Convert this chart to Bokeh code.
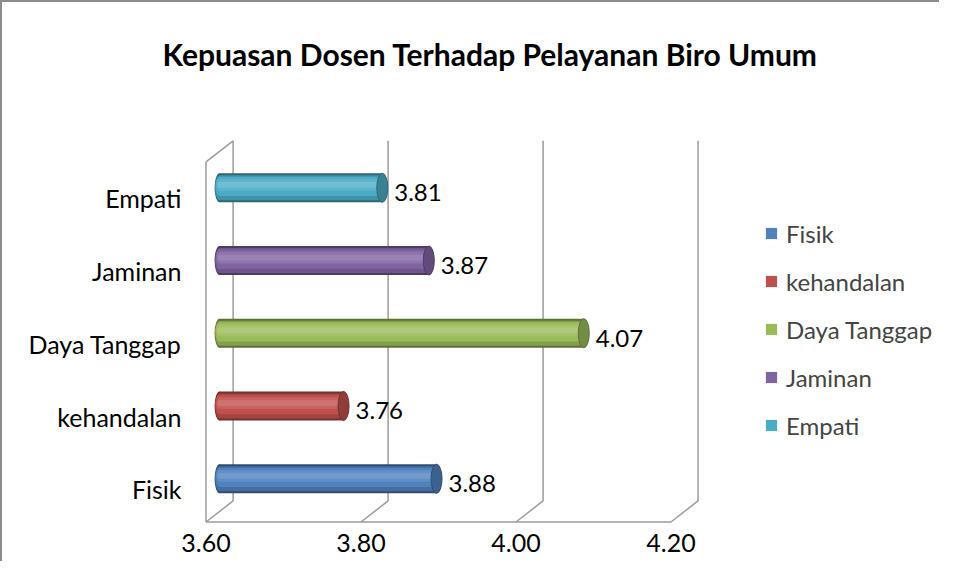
from bokeh.plotting import figure
from bokeh.models import (FixedTicker, PrintfTickFormatter, Legend, LegendItem,
                          ColumnDataSource)
from bokeh.embed import file_html
from bokeh.resources import INLINE
from bokeh.core.properties import value

# ---------------- data ----------------
categories = ["Fisik", "kehandalan", "Daya Tanggap", "Jaminan", "Empati"]
scores = [3.88, 3.76, 4.07, 3.87, 3.81]
x_ticks = [3.60, 3.80, 4.00, 4.20]
title_text = "Kepuasan Dosen Terhadap Pelayanan Biro Umum"

# ---------------- style ----------------
palette = ["#4F81BD", "#C0504D", "#9BBB59", "#8064A2", "#4BACC6"]
FONT = "Lato"
GRID = "#9c9c9c"
DX, DY = 0.035, 0.29          # 3-D depth offset (data units)
FLOOR, TOP = -0.45, 4.50      # floor / wall top (front plane)
BAR_H = 0.40


def mix(hexc, other, f):
    h = hexc.lstrip("#")
    r, g, b = (int(h[i:i + 2], 16) for i in (0, 2, 4))
    r = round(r + (other[0] - r) * f)
    g = round(g + (other[1] - g) * f)
    b = round(b + (other[2] - b) * f)
    return "#%02x%02x%02x" % (r, g, b)


def shade(c, f):
    return mix(c, (0, 0, 0), f)


def tint(c, f):
    return mix(c, (255, 255, 255), f)


n = len(categories)
ypos = list(range(n))
src = ColumnDataSource(dict(
    cat=categories,
    y=[i + DY / 2 for i in ypos],
    y1=[i + DY / 2 + BAR_H * 0.05 for i in ypos],
    y2=[i + DY / 2 + BAR_H * 0.10 for i in ypos],
    left=[x_ticks[0] + DX / 2] * n,
    right=[s + DX / 2 for s in scores],
    label=["%.2f" % s for s in scores],
    c_main=palette,
    c_dark=[shade(c, 0.40) for c in palette],
    c_mid=[shade(c, 0.15) for c in palette],
    c_l1=[tint(c, 0.10) for c in palette],
    c_l2=[tint(c, 0.20) for c in palette],
    c_cap=[shade(c, 0.25) for c in palette],
))

p = figure(width=939, height=561,
           x_range=(3.58, 4.544), y_range=(-0.484, 5.427),
           output_backend="svg", toolbar_location=None,
           min_border_left=188, min_border_right=4,
           min_border_top=92, min_border_bottom=39)
p.background_fill_color = "white"
p.border_fill_color = "white"
p.outline_line_color = None
p.grid.visible = False
p.styles = {"border-left": "2px solid #8c8c8c", "border-top": "2px solid #8c8c8c"}

# ---------------- 3-D walls ----------------
back_x = [t + DX for t in x_ticks]
p.segment(x0=back_x, y0=[FLOOR + DY] * len(x_ticks), x1=back_x, y1=[TOP + DY] * len(x_ticks),
          line_color=GRID, line_width=1.5)
p.segment(x0=x_ticks, y0=[FLOOR] * len(x_ticks), x1=back_x, y1=[FLOOR + DY] * len(x_ticks),
          line_color=GRID, line_width=1.5)
p.segment(x0=[x_ticks[0], x_ticks[0], x_ticks[0]],
          y0=[FLOOR, FLOOR, TOP],
          x1=[x_ticks[-1], x_ticks[0], x_ticks[0] + DX],
          y1=[FLOOR, TOP, TOP + DY],
          line_color=GRID, line_width=1.5)

# ---------------- cylinders ----------------
layers = [("y", 1.00, "c_dark", 10), ("y", 0.86, "c_mid", 9), ("y1", 0.66, "c_main", 8),
          ("y2", 0.40, "c_l1", 6), ("y2", 0.20, "c_l2", 4)]
for ycol, frac, col, w in layers:
    p.ellipse(x="left", y=ycol, width=w, height=BAR_H * frac, width_units="screen",
              fill_color=col, line_color=None, source=src)
    p.hbar(y=ycol, left="left", right="right", height=BAR_H * frac,
           fill_color=col, line_color=None, source=src)
p.ellipse(x="right", y="y", width=11, height=BAR_H, width_units="screen",
          fill_color="c_cap", line_color="c_dark", line_width=1, source=src)

# legend proxy: plain colour squares
legend_r = p.hbar(y="y", left="left", right="left", height=0.0,
                  fill_color="c_main", line_color=None, source=src)

# ---------------- data labels ----------------
p.text(x="right", y="y", text="label", x_offset=12, y_offset=5,
       text_baseline="middle", text_align="left",
       text_font=value(FONT), text_font_size="24px", text_color="black", source=src)

# ---------------- axes ----------------
p.xaxis.ticker = FixedTicker(ticks=x_ticks)
p.xaxis.formatter = PrintfTickFormatter(format="%.2f")
p.yaxis.ticker = FixedTicker(ticks=ypos)
p.yaxis.major_label_overrides = {i: c for i, c in zip(ypos, categories)}
for ax in (p.xaxis, p.yaxis):
    ax.axis_line_color = None
    ax.major_tick_line_color = None
    ax.minor_tick_line_color = None
    ax.major_tick_out = 0
    ax.major_tick_in = 0
    ax.major_label_text_font = FONT
    ax.major_label_text_font_size = "25px"
    ax.major_label_text_color = "black"
p.xaxis.major_label_standoff = 9
p.yaxis.major_label_standoff = 9

# ---------------- legend ----------------
items = [LegendItem(label=c, renderers=[legend_r], index=i) for i, c in enumerate(categories)]
legend = Legend(items=items, location=(574, 84), glyph_width=14, glyph_height=14,
                label_height=30, spacing=18, padding=0, margin=0, label_standoff=8,
                label_text_font=FONT, label_text_font_size="24px",
                border_line_color=None, background_fill_alpha=0)
p.add_layout(legend)

# ---------------- title ----------------
p.title.text = title_text
p.title.align = "left"
p.title.offset = -28
p.title.standoff = 46
p.title.text_font = FONT
p.title.text_font_size = "30px"
p.title.text_font_style = "bold"
p.title.text_color = "black"

open("out.html", "w").write(file_html(p, INLINE))
